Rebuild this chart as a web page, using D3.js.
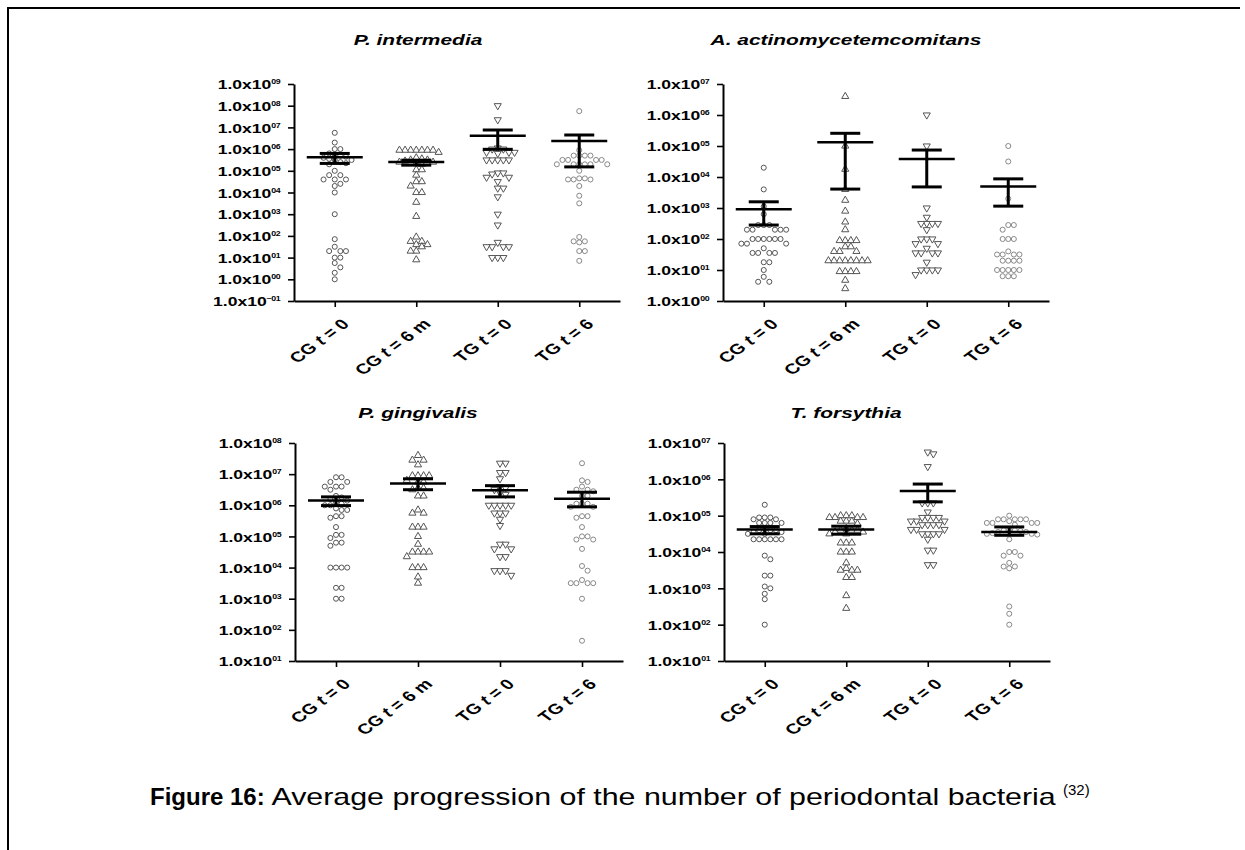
<!DOCTYPE html>
<html>
<head>
<meta charset="utf-8">
<script src="https://cdn.jsdelivr.net/npm/d3@7.9.0/dist/d3.min.js"></script>
<style>
  html, body { margin: 0; padding: 0; background: #fff; }
  svg { display: block; font-family: 'Liberation Sans', Arial, sans-serif; }
  text { white-space: pre; }
</style>
</head>
<body>
<svg id="fig" width="1245" height="850"></svg>
<script>
// groups on the x axis, same for every panel
const groups = ['CG t = 0', 'CG t = 6 m', 'TG t = 0', 'TG t = 6'];
const titles = ['P. intermedia', 'A. actinomycetemcomitans', 'P. gingivalis', 'T. forsythia'];

// y axis range of each panel, as powers of ten
const yMinExp = [-1, 0, 1, 1];
const yMaxExp = [9, 7, 8, 7];

// bacteria counts, stored as log10(count)
const intermediaLog = [
  [6.75, 6.3, 6.0, 6.0, 5.8, 5.75, 5.7, 5.65, 5.6, 5.55, 5.5, 5.5, 5.4, 5.35, 5.3, 5.0, 4.8, 4.8, 4.6, 4.6, 4.6, 4.4, 4.3, 4.0, 3.0, 1.85, 1.5, 1.3, 1.3, 1.3, 1.0, 1.0, 0.75, 0.55, 0.3, 0.0],
  [5.95, 5.95, 5.95, 5.95, 5.95, 5.95, 5.95, 5.85, 5.6, 5.55, 5.5, 5.5, 5.45, 5.4, 5.4, 5.35, 5.3, 5.05, 5.05, 4.8, 4.5, 4.5, 4.3, 4.0, 4.0, 3.55, 2.9, 1.95, 1.75, 1.75, 1.6, 1.6, 1.5, 1.3, 1.3, 0.9],
  [8.0, 7.35, 6.05, 6.0, 6.0, 5.85, 5.85, 5.85, 5.8, 5.5, 5.5, 5.5, 5.5, 5.5, 4.9, 4.9, 4.85, 4.7, 4.7, 4.5, 4.2, 4.2, 3.8, 3.0, 2.5, 1.7, 1.5, 1.5, 1.5, 1.5, 1.0, 1.0, 1.0],
  [7.75, 5.95, 5.7, 5.7, 5.7, 5.7, 5.5, 5.5, 5.5, 5.5, 5.3, 5.3, 5.3, 5.3, 5.3, 5.3, 5.0, 4.65, 4.6, 4.6, 4.6, 4.65, 4.3, 3.85, 3.5, 1.95, 1.75, 1.7, 1.75, 1.3, 1.3, 0.85]
];
const actinoLog = [
  [4.3, 3.6, 3.05, 2.8, 2.45, 2.45, 2.45, 2.3, 2.3, 2.3, 2.3, 2.3, 2.0, 2.0, 2.0, 2.0, 2.0, 2.0, 1.85, 1.85, 1.85, 1.7, 1.55, 1.55, 1.55, 1.55, 1.25, 1.25, 1.0, 0.78, 0.62, 0.62],
  [6.6, 5.0, 4.25, 3.6, 3.25, 2.9, 2.55, 2.3, 1.95, 1.95, 1.95, 1.95, 1.75, 1.75, 1.6, 1.6, 1.6, 1.3, 1.3, 1.3, 1.3, 1.3, 1.3, 1.3, 1.3, 0.95, 0.95, 0.95, 0.95, 0.67, 0.4],
  [6.0, 5.0, 3.0, 2.7, 2.5, 2.5, 2.5, 2.5, 2.3, 2.0, 2.0, 2.0, 1.85, 1.85, 1.7, 1.55, 1.55, 1.55, 1.55, 1.25, 1.0, 1.0, 1.0, 1.0, 0.85],
  [5.0, 4.5, 3.3, 2.45, 2.45, 2.3, 2.0, 2.0, 2.0, 1.6, 1.5, 1.5, 1.5, 1.5, 1.3, 1.3, 1.3, 1.3, 1.0, 1.0, 1.0, 1.0, 1.0, 0.8, 0.8, 0.8]
];
const gingivalisLog = [
  [6.9, 6.9, 6.75, 6.75, 6.6, 6.6, 6.6, 6.5, 6.3, 6.25, 6.2, 6.15, 6.1, 6.05, 6.0, 6.0, 5.9, 5.85, 5.85, 5.65, 5.65, 5.6, 5.3, 5.05, 5.05, 4.95, 4.8, 4.8, 4.7, 4.0, 4.0, 4.0, 4.0, 3.35, 3.35, 3.0, 3.0],
  [7.6, 7.45, 7.45, 7.3, 6.95, 6.95, 6.95, 6.95, 6.8, 6.75, 6.75, 6.55, 6.55, 6.5, 6.3, 6.3, 5.85, 5.75, 5.75, 5.3, 5.3, 5.3, 5.0, 4.75, 4.5, 4.5, 4.5, 4.5, 4.35, 4.0, 4.0, 4.0, 3.7, 3.5],
  [7.35, 7.35, 7.05, 7.05, 6.85, 6.6, 6.55, 6.5, 6.4, 6.35, 6.0, 6.0, 6.0, 6.0, 6.0, 5.75, 5.75, 5.75, 5.55, 5.35, 4.75, 4.75, 4.6, 4.6, 4.35, 4.35, 3.9, 3.9, 3.9, 3.75],
  [7.35, 6.8, 6.75, 6.6, 6.5, 6.45, 6.5, 6.3, 6.3, 6.05, 6.05, 6.05, 5.95, 5.95, 5.65, 5.65, 5.6, 5.3, 5.0, 5.0, 4.9, 4.9, 4.6, 4.05, 3.9, 3.6, 3.5, 3.5, 3.5, 3.5, 3.0, 1.65]
];
const forsythiaLog = [
  [5.3, 4.95, 4.95, 4.95, 4.9, 4.9, 4.8, 4.8, 4.8, 4.8, 4.65, 4.6, 4.6, 4.6, 4.55, 4.55, 4.5, 4.5, 4.35, 4.35, 4.35, 4.35, 4.35, 4.35, 3.9, 3.8, 3.35, 3.35, 3.05, 3.0, 2.85, 2.7, 2.0],
  [5.0, 5.0, 5.0, 4.95, 4.95, 4.95, 4.95, 4.85, 4.85, 4.85, 4.78, 4.65, 4.6, 4.6, 4.6, 4.55, 4.55, 4.5, 4.5, 4.25, 4.25, 4.25, 4.0, 4.0, 4.0, 3.7, 3.55, 3.5, 3.5, 3.5, 3.3, 3.3, 2.8, 2.45],
  [6.75, 6.7, 6.35, 5.35, 5.35, 5.35, 5.1, 4.95, 4.95, 4.95, 4.95, 4.85, 4.85, 4.85, 4.75, 4.75, 4.75, 4.75, 4.62, 4.62, 4.62, 4.5, 4.5, 4.5, 4.5, 4.35, 4.05, 4.05, 3.65, 3.65],
  [5.0, 4.9, 4.9, 4.9, 4.9, 4.9, 4.85, 4.8, 4.8, 4.8, 4.8, 4.75, 4.62, 4.6, 4.6, 4.58, 4.55, 4.55, 4.52, 4.5, 4.5, 4.48, 4.35, 4.0, 4.0, 3.9, 3.9, 3.7, 3.6, 3.6, 3.55, 2.5, 2.3, 2.0]
];

// mean and SEM limits per group, log10
const meanLog = [[5.62, 5.4, 6.62, 6.37], [2.96, 5.12, 4.58, 3.69], [6.15, 6.70, 6.48, 6.21], [4.62, 4.62, 5.68, 4.55]];
const semLoLog = [[5.34, 5.26, 5.99, 5.18], [2.45, 3.61, 3.68, 3.06], [5.99, 6.5, 6.27, 5.95], [4.5, 4.49, 5.38, 4.46]];
const semHiLog = [[5.8, 5.49, 6.88, 6.65], [3.2, 5.41, 4.87, 3.94], [6.27, 6.85, 6.63, 6.42], [4.7, 4.71, 5.87, 4.69]];

const caption = ['Figure 16:', ' Average progression of the number of periodontal bacteria', '(32)'];

const pointSets = [intermediaLog, actinoLog, gingivalisLog, forsythiaLog];

// layout of the four panels
const boxes = [
  { left: 294, right: 620, top: 84, bottom: 301, tx: 418, ty: 45 },
  { left: 723, right: 1049, top: 84, bottom: 301, tx: 846, ty: 45 },
  { left: 295, right: 623, top: 443, bottom: 661, tx: 418, ty: 418 },
  { left: 724, right: 1050, top: 443, bottom: 661, tx: 846, ty: 418 }
];
const SX = 1.35;   // the figure was pasted stretched sideways

const svg = d3.select('#fig');

// page frame
svg.append('line').attr('x1', 7).attr('x2', 1240).attr('y1', 8).attr('y2', 8)
  .attr('stroke', '#000').attr('stroke-width', 2);
svg.append('line').attr('x1', 8).attr('x2', 8).attr('y1', 7).attr('y2', 850)
  .attr('stroke', '#000').attr('stroke-width', 2);

const shapes = [
  { type: d3.symbolCircle, rot: 0, stroke: '#555' },
  { type: d3.symbolTriangle, rot: 0, stroke: '#555' },
  { type: d3.symbolTriangle, rot: 180, stroke: '#555' },
  { type: d3.symbolCircle, rot: 0, stroke: '#888' }
];

// simple beeswarm: put each point nearest the centre without overlapping
function dodge(vals, y, cx, d) {
  const placed = [];
  vals.slice().sort((a, b) => b - a).forEach(v => {
    const py = y(v);
    for (let k = 0; k < 60; k++) {
      const off = k === 0 ? 0 : (k % 2 ? 1 : -1) * Math.ceil(k / 2);
      const px = cx + off * d;
      if (placed.every(p => (p.x - px) ** 2 + (p.y - py) ** 2 >= d * d * 0.85)) {
        placed.push({ x: px, y: py });
        break;
      }
    }
  });
  return placed;
}

function drawPanel(i) {
  const b = boxes[i];
  const g = svg.append('g');
  const y = d3.scaleLinear().domain([yMinExp[i], yMaxExp[i]]).range([b.bottom, b.top]);
  const x = d3.scalePoint().domain(groups).range([b.left, b.right]).padding(0.5);

  // title
  g.append('text')
    .attr('transform', `translate(${b.tx},${b.ty}) scale(${SX},1)`)
    .attr('text-anchor', 'middle')
    .attr('font-size', 15.5).attr('font-weight', 'bold').attr('font-style', 'italic')
    .text(titles[i]);

  // y axis
  const ya = g.append('g').attr('transform', `translate(${b.left},0)`)
    .call(d3.axisLeft(y).tickValues(d3.range(yMinExp[i], yMaxExp[i] + 1))
      .tickSize(6).tickSizeOuter(0).tickFormat(''));
  ya.select('.domain').attr('stroke-width', 2);
  ya.selectAll('.tick line').attr('stroke-width', 1.6);
  ya.selectAll('.tick').each(function (e) {
    const t = d3.select(this).append('text')
      .attr('transform', `translate(-14,0) scale(${SX},1)`)
      .attr('text-anchor', 'end').attr('fill', '#000')
      .attr('font-size', 13).attr('font-weight', 'bold').attr('font-family', "'Liberation Sans', Arial, sans-serif")
      .attr('dy', '0.36em');
    t.append('tspan').text('1.0x10');
    const ex = (e < 0 ? '\u2212' : '') + String(Math.abs(e)).padStart(2, '0');
    t.append('tspan').attr('font-size', 6.5).attr('letter-spacing', -0.4).attr('dy', -5).text(ex);
  });

  // x axis
  const xa = g.append('g').attr('transform', `translate(0,${b.bottom})`)
    .call(d3.axisBottom(x).tickSize(6).tickSizeOuter(0).tickFormat(''));
  xa.select('.domain').attr('stroke-width', 2);
  xa.selectAll('.tick line').attr('stroke-width', 1.6);
  xa.selectAll('.tick').each(function (lab) {
    const parts = lab.split(' t ');
    const t = d3.select(this).append('text')
      .attr('transform', `translate(15,24) scale(${SX},1) rotate(-45)`)
      .attr('text-anchor', 'end').attr('fill', '#000')
      .attr('font-size', 14.5).attr('font-weight', 'bold').attr('font-family', "'Liberation Sans', Arial, sans-serif");
    t.append('tspan').text(parts[0] + ' ');
    t.append('tspan').attr('font-style', 'italic').text('t');
    t.append('tspan').text(' ' + parts[1]);
  });

  // points
  groups.forEach((grp, j) => {
    const pts = dodge(pointSets[i][j], y, x(grp), 5.6);
    const sym = d3.symbol().type(shapes[j].type).size(j === 0 || j === 3 ? 20 : 22);
    g.append('g').selectAll('path').data(pts).join('path')
      .attr('d', sym)
      .attr('transform', d => `translate(${d.x},${d.y}) rotate(${shapes[j].rot})`)
      .attr('fill', '#fff').attr('stroke', shapes[j].stroke).attr('stroke-width', 1);
  });

  // mean with SEM
  groups.forEach((grp, j) => {
    const cx = x(grp);
    const eb = g.append('g').attr('stroke', '#000');
    eb.append('line').attr('x1', cx - 28).attr('x2', cx + 28)
      .attr('y1', y(meanLog[i][j])).attr('y2', y(meanLog[i][j])).attr('stroke-width', 2.5);
    eb.append('line').attr('x1', cx).attr('x2', cx)
      .attr('y1', y(semLoLog[i][j])).attr('y2', y(semHiLog[i][j])).attr('stroke-width', 3);
    [semLoLog[i][j], semHiLog[i][j]].forEach(v => {
      eb.append('line').attr('x1', cx - 15).attr('x2', cx + 15)
        .attr('y1', y(v)).attr('y2', y(v)).attr('stroke-width', 3);
    });
  });
}

d3.range(4).forEach(drawPanel);

// caption: bold label, then the sentence stretched to its place, then the reference number
const capY = 805;
const capFont = 'Arial, "Liberation Sans", sans-serif';
const c1 = svg.append('text').attr('x', 150).attr('y', capY)
  .attr('font-size', 24).attr('font-weight', 'bold').attr('font-family', capFont).text(caption[0]);
const c1end = 150 + c1.node().getBBox().width;
const c2 = svg.append('text').attr('font-size', 24).attr('font-family', capFont).text(caption[1]);
const c2w = c2.node().getBBox().width;
c2.attr('transform', `translate(${c1end},${capY}) scale(${(1057 - c1end) / c2w},1)`);
svg.append('text').attr('x', 1063).attr('y', capY - 10)
  .attr('font-size', 15).attr('font-family', capFont).text(caption[2]);
</script>
</body>
</html>
